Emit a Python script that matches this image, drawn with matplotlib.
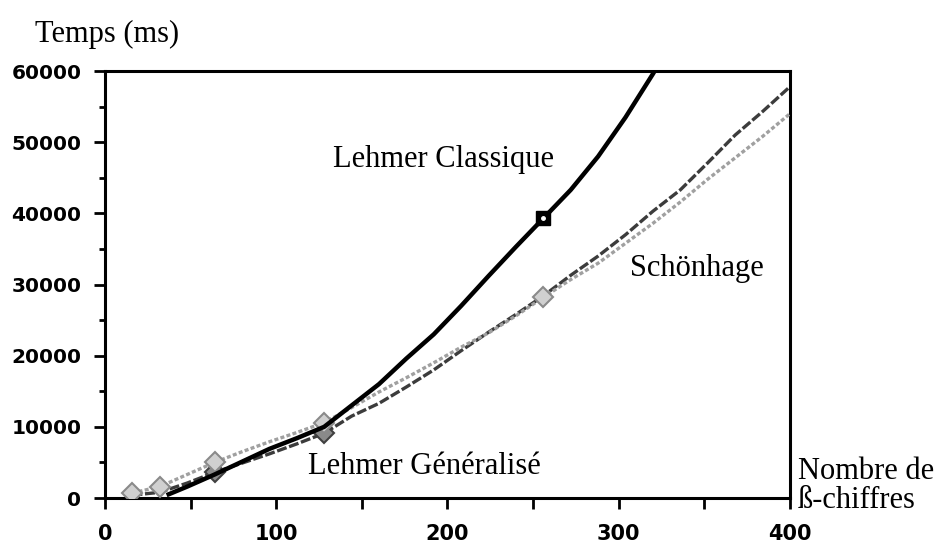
import numpy as np
import matplotlib
matplotlib.use("Agg")
import matplotlib.pyplot as plt
from matplotlib.ticker import MultipleLocator, FuncFormatter

# valeurs (temps en ms)
x_classique = [36, 48, 64, 80, 96, 112, 128, 144, 160, 176, 192, 208, 224, 240,
               256, 272, 288, 304, 320, 321]
y_classique = [400, 1600, 3300, 5100, 6900, 8400, 10000, 13000, 16000, 19600, 23000,
               27000, 31200, 35300, 39300, 43300, 48000, 53500, 59600, 60000]

x_grille = [16, 32, 48, 64, 80, 96, 112, 128, 144, 160, 176, 192, 208, 224, 240,
            256, 272, 288, 304, 320, 336, 352, 368, 384, 400]
y_schonhage = [700, 1600, 3300, 5000, 6500, 7900, 9200, 10600, 12700, 14900, 16900,
               19000, 21200, 23200, 25600, 28200, 30700, 33000, 35800, 38600, 41600,
               44800, 47800, 50800, 54000]
y_generalise = [400, 800, 2100, 3600, 4900, 6200, 7600, 9100, 11500, 13300, 15600,
                18000, 20700, 23300, 25800, 28400, 31300, 34000, 37000, 40300, 43300,
                47100, 51000, 54300, 57800]

points_sch = [16, 32, 64, 128, 256]
points_gen = [64, 128]
points_cla = [256]

serif = "Liberation Serif"

fig = plt.figure(figsize=(9.5, 5.46), dpi=100)
ax = fig.add_axes([0.1105, 0.0879, 0.721, 0.782])

x_grille = np.array(x_grille)
x_classique = np.array(x_classique)
idx_sch = np.where(np.isin(x_grille, points_sch))[0].tolist()
idx_gen = np.where(np.isin(x_grille, points_gen))[0].tolist()
idx_cla = np.where(np.isin(x_classique, points_cla))[0].tolist()

ax.plot(x_grille, y_schonhage, color="#a0a0a0", lw=2.4, ls=(0, (1.2, 0.7)),
        marker="D", markevery=idx_sch, ms=10, mfc="#d0d0d0", mec="#8a8a8a", mew=1.5,
        zorder=3)
ax.plot(x_grille, y_generalise, color="#3c3c3c", lw=2.4, ls=(0, (3, 0.8)),
        marker="D", markevery=idx_gen, ms=10, mfc="#8a8a8a", mec="#404040", mew=1.5,
        zorder=2)
ax.plot(x_classique, y_classique, color="black", lw=3.2, solid_capstyle="butt",
        zorder=4, clip_on=True)
ax.plot(x_classique[idx_cla], np.array(y_classique)[idx_cla], ls="none", marker="s",
        ms=10, mfc="black", mec="black", zorder=5)
ax.plot(x_classique[idx_cla], np.array(y_classique)[idx_cla], ls="none", marker="o",
        ms=2.5, mfc="white", mec="white", zorder=6)

ax.set_xlim(0, 400)
ax.set_ylim(0, 60000)

ax.xaxis.set_major_locator(MultipleLocator(100))
ax.xaxis.set_minor_locator(MultipleLocator(50))
ax.yaxis.set_major_locator(MultipleLocator(10000))
ax.yaxis.set_minor_locator(MultipleLocator(5000))
ax.yaxis.set_major_formatter(FuncFormatter(lambda v, p: f"{int(v)}"))

for s in ax.spines.values():
    s.set_linewidth(2.2)

ax.tick_params(axis="x", which="both", direction="out", length=8, width=2,
               pad=11, labelsize=15)
ax.tick_params(axis="y", which="major", direction="out", length=8, width=2,
               pad=9, labelsize=14.5)
ax.tick_params(axis="y", which="minor", direction="out", length=4, width=2)
for lab in ax.get_xticklabels() + ax.get_yticklabels():
    lab.set_fontweight("bold")
    lab.set_family("DejaVu Sans")

ax.text(197.7, 47500, "Lehmer Classique", family=serif, fontsize=22,
        ha="center", va="center")
ax.text(345.6, 32300, "Schönhage", family=serif, fontsize=22,
        ha="center", va="center")
ax.text(186.5, 4400, "Lehmer Généralisé", family=serif, fontsize=22,
        ha="center", va="center")
ax.text(404.7, 1700, "Nombre de\nß-chiffres", family=serif, fontsize=22,
        ha="left", va="center", linespacing=1.0, clip_on=False)
fig.text(0.037, 0.936, "Temps (ms)", family=serif, fontsize=22,
         ha="left", va="center")

fig.savefig("out.png", dpi=100)
